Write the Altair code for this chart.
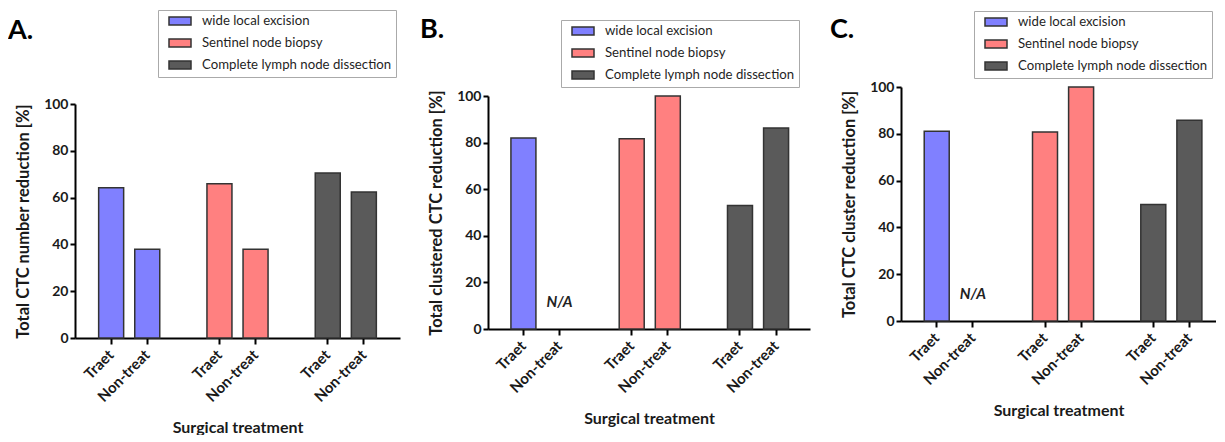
import altair as alt
import pandas as pd

# ---------------- data ----------------
methods = ["wide local excision", "Sentinel node biopsy", "Complete lymph node dissection"]
treatments = ["Traet", "Non-treat"]
panel_letters = ["A.", "B.", "C."]
y_titles = [
    "Total CTC number reduction [%]",
    "Total clustered CTC reduction [%]",
    "Total CTC cluster reduction [%]",
]
x_title = "Surgical treatment"
values_A = [64.2, 37.9, 65.9, 37.9, 70.5, 62.4]
values_B = [82.0, None, 81.6, 100.0, 53.0, 86.3]
values_C = [81.1, None, 80.8, 100.0, 49.8, 85.8]
y_ticks = [0, 20, 40, 60, 80, 100]
missing_label = "N/A"

# ---------------- style ----------------
colors = ["#8080ff", "#ff8080", "#5a5a5a"]
FONT = "Lato"
INK = "#1a1a1a"

keys = [f"{m}|{t}" for m in methods for t in treatments]
x_domain = keys[0:2] + ["gap1"] + keys[2:4] + ["gap2"] + keys[4:6]


def make_df(vals):
    rows = []
    i = 0
    for m in methods:
        for t in treatments:
            rows.append({"method": m, "treatment": t, "key": f"{m}|{t}", "value": vals[i]})
            i += 1
    return pd.DataFrame(rows)


# per-panel layout (pixels relative to each panel's origin)
layout = [
    dict(width=325, height=251, yr=[251, 17], po=0.655, al=0.5,
         lx=83, ly=-77, dx=-67, dy=-48),
    dict(width=322, height=242, yr=[242, 9], po=0.614, al=0.517,
         lx=73, ly=-67, dx=-68, dy=-49),
    dict(width=315, height=234, yr=[234, 0], po=0.517, al=0.622,
         lx=73, ly=-76, dx=-71, dy=-49),
]

panels = []
for vals, yt, letter, lay in zip([values_A, values_B, values_C], y_titles, panel_letters, layout):
    df = make_df(vals)
    xscale = alt.Scale(domain=x_domain, paddingInner=0.307,
                       paddingOuter=lay["po"], align=lay["al"])
    yscale = alt.Scale(domain=[0, 100], nice=False, range=lay["yr"])
    xaxis = alt.Axis(
        title=x_title, values=keys, labelExpr="split(datum.value, '|')[1]",
        labelAngle=315, labelAlign="right", labelBaseline="middle",
        labelFont=FONT, labelFontSize=15, labelFontWeight="bold", labelColor=INK,
        labelPadding=8, tickSize=6, tickWidth=2, tickColor="black",
        domainWidth=2, domainColor="black", grid=False,
        titleFont=FONT, titleFontSize=16, titleFontWeight="bold", titleColor=INK,
        titleY=81, titleBaseline="top",
    )
    yaxis = alt.Axis(
        title=yt, values=y_ticks, grid=False, domainColor="black", domainWidth=2,
        tickColor="black", tickWidth=2, tickSize=5,
        labelFont=FONT, labelFontSize=14, labelFontWeight="bold", labelColor=INK,
        labelPadding=2, titleFont=FONT, titleFontSize=16.5, titleFontWeight="bold",
        titleColor=INK, titleX=-52, titleY=(lay["yr"][0] + lay["yr"][1]) / 2,
        titleBaseline="middle",
    )
    legend = alt.Legend(
        orient="none", legendX=lay["lx"], legendY=lay["ly"], title=None,
        direction="vertical", symbolType="M0,-0.667H3.667V0.667H0Z", symbolSize=144,
        symbolStrokeColor="#333333", symbolStrokeWidth=1.5, symbolOpacity=1,
        labelFont=FONT, labelFontSize=13.2, labelColor="#1f1f1f", labelOffset=26,
        labelLimit=400, padding=4, rowPadding=6, strokeColor="#aaaaaa",
        fillColor="white",
    )
    bars = alt.Chart(df).mark_bar(size=25, stroke="#333333", strokeWidth=1.5).encode(
        x=alt.X("key:N", scale=xscale, axis=xaxis),
        y=alt.Y("value:Q", scale=yscale, axis=yaxis),
        fill=alt.Fill("method:N", scale=alt.Scale(domain=methods, range=colors), legend=legend),
    )
    na = alt.Chart(df).transform_filter("!isValid(datum.value)").mark_text(
        text=missing_label, font=FONT, fontSize=15, fontWeight="bold",
        fontStyle="italic", color="#222222", dy=-27, baseline="middle",
    ).encode(
        x=alt.X("key:N", scale=xscale, axis=xaxis),
        y=alt.datum(0),
    )
    title = alt.TitleParams(
        text=letter, orient="none", anchor="start", align="left",
        dx=lay["dx"], dy=lay["dy"], baseline="alphabetic",
        fontSize=27, font=FONT, fontWeight="bold", color="black",
    )
    panel = alt.layer(bars, na).properties(
        width=lay["width"], height=lay["height"], title=title
    )
    panels.append(panel)

chart = (
    alt.hconcat(*panels, spacing=20)
    .resolve_scale(fill="independent")
    .resolve_legend(fill="independent")
    .properties(padding={"left": 0, "top": 1, "right": 0, "bottom": 0})
    .configure_view(stroke=None)
)

chart.save("out.html", embed_options={"renderer": "svg", "actions": False})
